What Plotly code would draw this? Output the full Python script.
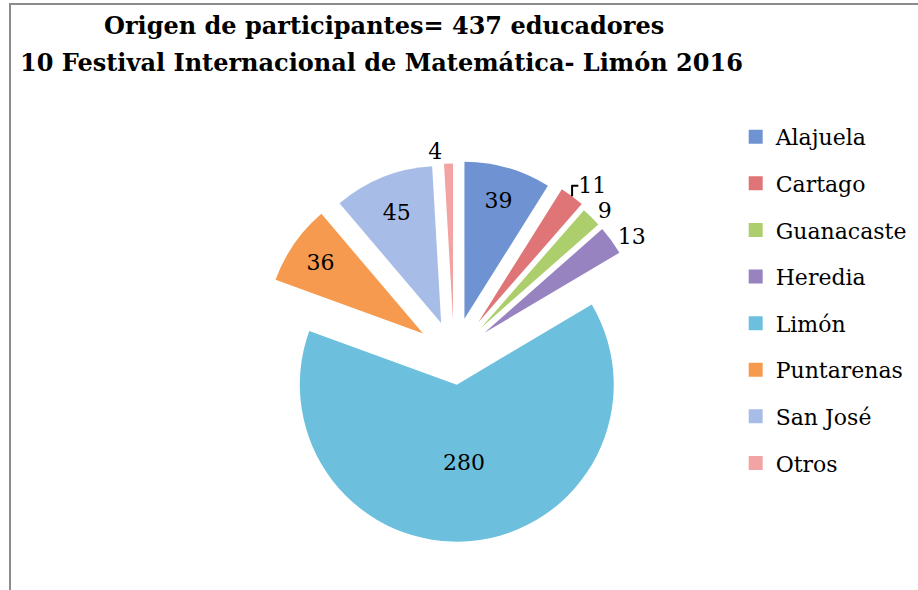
import plotly.graph_objects as go

categories = ["Alajuela", "Cartago", "Guanacaste", "Heredia", "Limón", "Puntarenas", "San José", "Otros"]
values = [39, 11, 9, 13, 280, 36, 45, 4]
colors = ["#6F93D2", "#E07577", "#ADCE6C", "#9783BF", "#6CC0DD", "#F59A4E", "#A7BDE8", "#F2A3A3"]
text_positions = ["inside", "outside", "outside", "outside", "inside", "inside", "inside", "outside"]
pulls = [0.24, 0.26, 0.24, 0.24, 0.19, 0.24, 0.22, 0.22]

title_lines = ["Origen de participantes= 437 educadores",
               "10 Festival Internacional de Matemática- Limón 2016"]

FONT = "DejaVu Serif"

fig = go.Figure()
fig.add_trace(go.Pie(
    labels=categories,
    values=values,
    sort=False,
    direction="clockwise",
    rotation=0,
    pull=pulls,
    marker=dict(colors=colors, line=dict(color="rgba(0,0,0,0)", width=0)),
    textinfo="value",
    textposition=text_positions,
    insidetextorientation="horizontal",
    textfont=dict(family=FONT, size=22, color="black"),
    showlegend=False,
    domain=dict(x=[0.2791, 0.7100], y=[0.0631, 0.7336]),
    hoverinfo="label+value",
))

# legend entries (one per category)
for name, col in zip(categories, colors):
    fig.add_trace(go.Scatter(
        x=[None], y=[None], mode="markers", name=name,
        marker=dict(symbol="square", size=14, color=col),
        legendgroup=name, showlegend=True,
    ))

# chart-area frame (top and left edges), drawn on hidden axes spanning the page
fig.add_trace(go.Scatter(
    x=[918, 10, 10], y=[4, 4, 600], mode="lines",
    line=dict(color="#8C8C8C", width=2),
    showlegend=False, hoverinfo="skip", cliponaxis=False,
))

fig.update_layout(
    width=918, height=590,
    margin=dict(l=0, r=0, t=0, b=0, autoexpand=False),
    paper_bgcolor="white",
    plot_bgcolor="rgba(0,0,0,0)",
    xaxis=dict(visible=False, range=[0, 918], fixedrange=True),
    yaxis=dict(visible=False, range=[590, 0], fixedrange=True),
    font=dict(family=FONT, color="black"),
    legend=dict(
        x=0.8014, y=0.8035, xanchor="left", yanchor="top",
        font=dict(family=FONT, size=22, color="black"),
        tracegroupgap=15,
        bgcolor="rgba(0,0,0,0)",
        itemwidth=30,
    ),
    annotations=[
        dict(text="<b>" + title_lines[0] + "</b>", x=384 / 918, y=1 - 25 / 590,
             xanchor="center", yanchor="middle",
             xref="paper", yref="paper", showarrow=False,
             font=dict(family=FONT, size=24, color="black")),
        dict(text="<b>" + title_lines[1] + "</b>", x=381 / 918, y=1 - 62 / 590,
             xanchor="center", yanchor="middle",
             xref="paper", yref="paper", showarrow=False,
             font=dict(family=FONT, size=24, color="black")),
    ],
)

fig.write_html("out.html", config={"displayModeBar": False},
               post_script="document.body.style.margin='0';")
